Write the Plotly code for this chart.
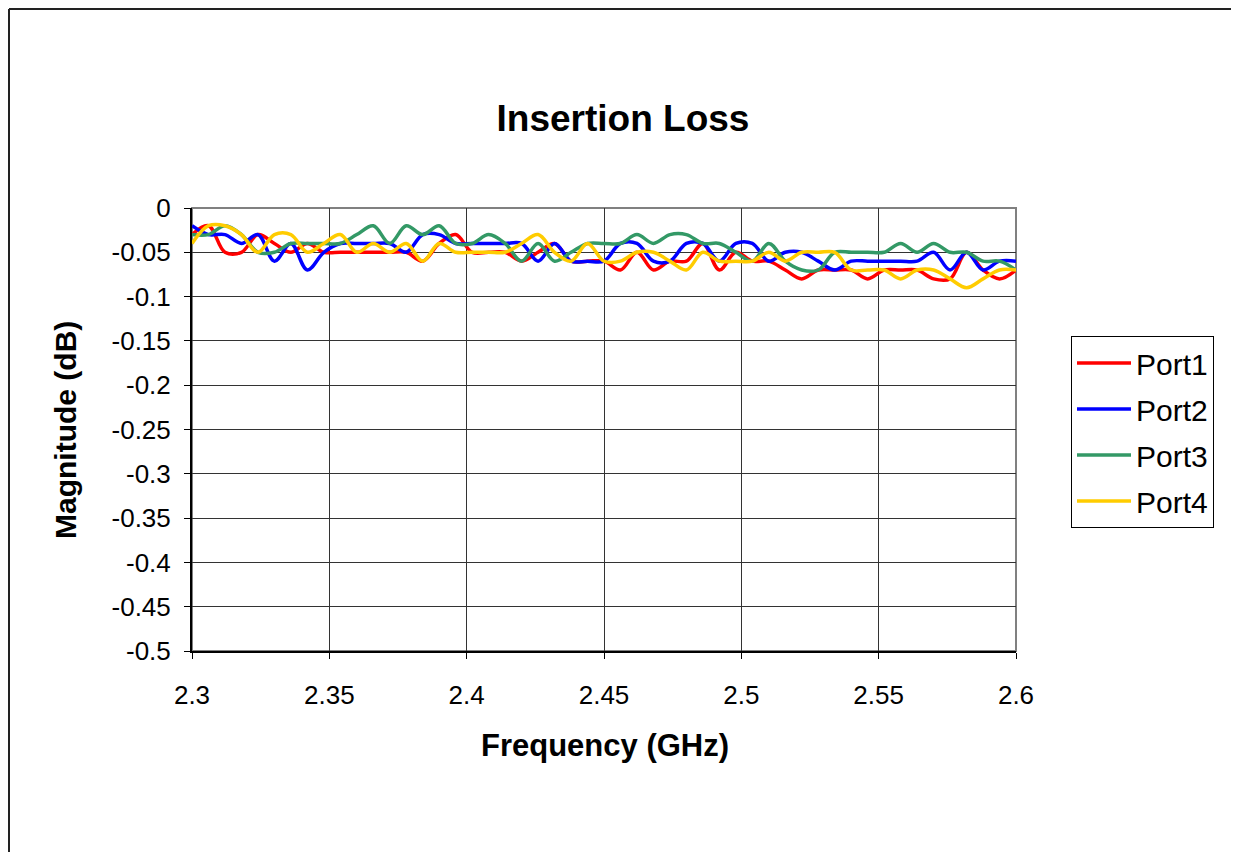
import plotly.graph_objects as go

freq_ghz = [2.300, 2.306, 2.312, 2.318, 2.324, 2.330, 2.336, 2.342, 2.348, 2.354,
            2.360, 2.366, 2.372, 2.378, 2.384, 2.390, 2.396, 2.402, 2.408, 2.414,
            2.420, 2.426, 2.432, 2.438, 2.444, 2.450, 2.456, 2.462, 2.468, 2.474,
            2.480, 2.486, 2.492, 2.498, 2.504, 2.510, 2.516, 2.522, 2.528, 2.534,
            2.540, 2.546, 2.552, 2.558, 2.564, 2.570, 2.576, 2.582, 2.588, 2.594,
            2.600]

port1 = [-0.03, -0.02, -0.05, -0.05, -0.03, -0.04, -0.05, -0.04, -0.05,
         -0.05, -0.05, -0.05, -0.05, -0.05, -0.06, -0.04, -0.03,
         -0.05, -0.05, -0.05, -0.06, -0.05, -0.04, -0.06, -0.06,
         -0.06, -0.07, -0.05, -0.07, -0.06, -0.06, -0.04, -0.07, -0.05,
         -0.06, -0.06, -0.07, -0.08, -0.07, -0.07, -0.07, -0.08, -0.07,
         -0.07, -0.07, -0.08, -0.08, -0.05, -0.07, -0.08, -0.07]

port2 = [-0.02, -0.03, -0.03, -0.04, -0.03, -0.06, -0.04, -0.07, -0.05,
         -0.04, -0.04, -0.04, -0.04, -0.05, -0.03, -0.03, -0.04,
         -0.04, -0.04, -0.04, -0.04, -0.06, -0.04, -0.06, -0.06,
         -0.06, -0.04, -0.04, -0.06, -0.06, -0.04, -0.04, -0.06, -0.04,
         -0.04, -0.06, -0.05, -0.05, -0.06, -0.07, -0.06, -0.06, -0.06,
         -0.06, -0.06, -0.05, -0.07, -0.05, -0.07, -0.06, -0.06]

port3 = [-0.03, -0.03, -0.02, -0.03, -0.05, -0.05, -0.04, -0.04, -0.04,
         -0.04, -0.03, -0.02, -0.04, -0.02, -0.03, -0.02, -0.04,
         -0.04, -0.03, -0.04, -0.06, -0.04, -0.06, -0.05, -0.04,
         -0.04, -0.04, -0.03, -0.04, -0.03, -0.03, -0.04, -0.04, -0.05,
         -0.06, -0.04, -0.06, -0.07, -0.07, -0.05, -0.05, -0.05, -0.05,
         -0.04, -0.05, -0.04, -0.05, -0.05, -0.06, -0.06, -0.07]

port4 = [-0.04, -0.02, -0.02, -0.03, -0.05, -0.03, -0.03, -0.05, -0.04,
         -0.03, -0.05, -0.04, -0.05, -0.04, -0.06, -0.04, -0.05,
         -0.05, -0.05, -0.05, -0.04, -0.03, -0.05, -0.06, -0.04,
         -0.06, -0.06, -0.05, -0.05, -0.06, -0.07, -0.05, -0.06, -0.06,
         -0.06, -0.05, -0.06, -0.05, -0.05, -0.05, -0.07, -0.07, -0.07,
         -0.08, -0.07, -0.07, -0.08, -0.09, -0.08, -0.07, -0.07]

series_names = ["Port1", "Port2", "Port3", "Port4"]
series_colors = ["#FF0000", "#0000FF", "#339966", "#FFCC00"]

y_tickvals = [0, -0.05, -0.1, -0.15, -0.2, -0.25, -0.3, -0.35, -0.4, -0.45, -0.5]
y_ticktext = ["0", "-0.05", "-0.1", "-0.15", "-0.2", "-0.25", "-0.3", "-0.35", "-0.4", "-0.45", "-0.5"]
x_tickvals = [2.3, 2.35, 2.4, 2.45, 2.5, 2.55, 2.6]
x_ticktext = ["2.3", "2.35", "2.4", "2.45", "2.5", "2.55", "2.6"]

FONT = "Arial, 'Liberation Sans', sans-serif"

fig = go.Figure()
for name, vals, col in zip(series_names, [port1, port2, port3, port4], series_colors):
    fig.add_trace(go.Scatter(
        x=freq_ghz, y=vals, name=name, mode="lines",
        line=dict(color=col, width=3.5, shape="spline", smoothing=1.0),
        legendgroup=name,
    ))

# page body has an 8px margin, so figure coordinates are page coordinates minus 8
OFF = 8
W, H = 1239 - OFF, 852 - OFF
L, T = 192 - OFF, 208 - OFF
R = W - (1016 - OFF)
B = H - (651 - OFF)
pw, ph = W - L - R, H - T - B

def px_x(p):
    return (p - OFF - L) / pw

def px_y(p):
    return (H - B - (p - OFF)) / ph

fig.update_layout(
    width=W, height=H, autosize=False,
    margin=dict(l=L, r=R, t=T, b=B, pad=0),
    paper_bgcolor="white", plot_bgcolor="white",
    font=dict(family=FONT, color="black", size=26),
    title=dict(text="<b>Insertion Loss</b>", x=(623 - OFF) / W, xanchor="center",
               y=1 - (118 - OFF) / H, yanchor="middle", font=dict(size=37, family=FONT)),
    showlegend=True,
    legend=dict(
        x=px_x(1071), y=px_y(336), xanchor="left", yanchor="top",
        bgcolor="white", bordercolor="black", borderwidth=1,
        font=dict(size=30, family=FONT),
        tracegroupgap=4, itemwidth=54,
    ),
    xaxis=dict(
        range=[2.3, 2.6], tickvals=x_tickvals, ticktext=x_ticktext,
        showgrid=True, gridcolor="#333333", gridwidth=1,
        showline=True, linecolor="black", linewidth=2,
        ticks="outside", ticklen=6, tickcolor="black", tickwidth=1,
        zeroline=False, tickfont=dict(size=26, family=FONT), ticklabelstandoff=14,
    ),
    yaxis=dict(
        range=[-0.5, 0], tickvals=y_tickvals, ticktext=y_ticktext,
        showgrid=True, gridcolor="#333333", gridwidth=1,
        showline=True, linecolor="black", linewidth=2,
        ticks="outside", ticklen=6, tickcolor="black", tickwidth=1,
        zeroline=False, tickfont=dict(size=26, family=FONT), ticklabelstandoff=8,
    ),
    shapes=[
        dict(type="rect", xref="paper", yref="paper", x0=0, x1=1, y0=0, y1=1,
             line=dict(color="#808080", width=2), layer="below"),
        dict(type="line", xref="paper", yref="paper",
             x0=px_x(9), x1=px_x(1245), y0=px_y(9), y1=px_y(9),
             line=dict(color="#222222", width=2), layer="below"),
        dict(type="line", xref="paper", yref="paper",
             x0=px_x(9), x1=px_x(9), y0=px_y(9), y1=px_y(870),
             line=dict(color="#222222", width=2), layer="below"),
    ],
    annotations=[
        dict(text="<b>Frequency (GHz)</b>", xref="paper", yref="paper",
             x=px_x(605), y=px_y(745), xanchor="center", yanchor="middle",
             showarrow=False, font=dict(size=31, family=FONT)),
        dict(text="<b>Magnitude (dB)</b>", xref="paper", yref="paper",
             x=px_x(65), y=px_y(430), xanchor="center", yanchor="middle",
             textangle=-90, showarrow=False, font=dict(size=30, family=FONT)),
    ],
)

fig.write_html("out.html")
